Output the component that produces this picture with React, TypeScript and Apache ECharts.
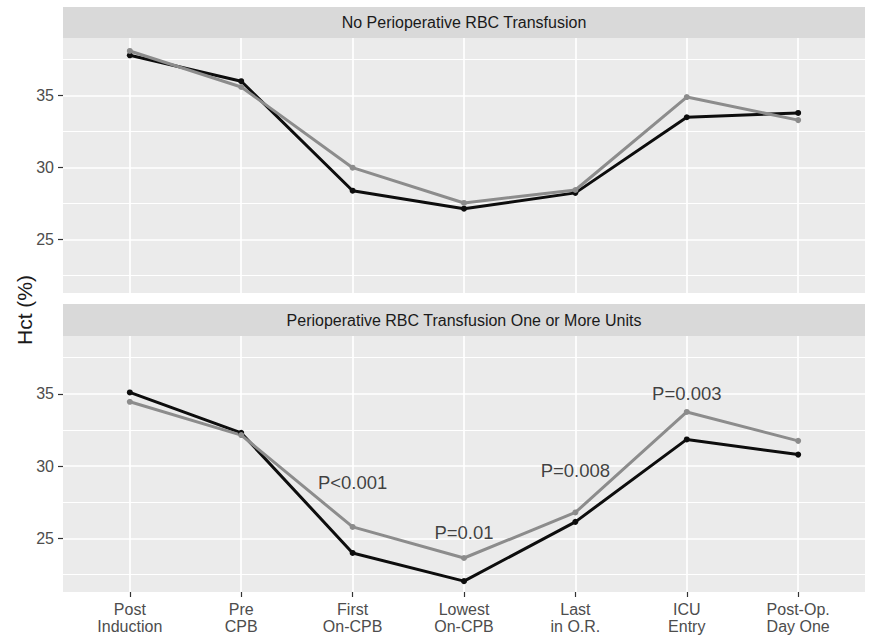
import React, { useEffect, useRef } from "react";
import * as echarts from "echarts";

const categories = [
  "Post\nInduction",
  "Pre\nCPB",
  "First\nOn-CPB",
  "Lowest\nOn-CPB",
  "Last\nin O.R.",
  "ICU\nEntry",
  "Post-Op.\nDay One",
];
const panelTitles = [
  "No Perioperative RBC Transfusion",
  "Perioperative RBC Transfusion One or More Units",
];
// Panel 1: no transfusion
const noTransBlack = [37.8, 36.0, 28.4, 27.15, 28.25, 33.5, 33.8];
const noTransGray = [38.1, 35.6, 30.0, 27.55, 28.45, 34.9, 33.3];
// Panel 2: transfusion
const transBlack = [35.1, 32.3, 24.0, 22.05, 26.15, 31.85, 30.8];
const transGray = [34.45, 32.15, 25.8, 23.65, 26.8, 33.75, 31.75];
// p-value annotations in panel 2: [x index, y value, text]
const pLabels: [number, number, string][] = [
  [2, 28.87, "P<0.001"],
  [3, 25.42, "P=0.01"],
  [4, 29.72, "P=0.008"],
  [5, 35.05, "P=0.003"],
];
const yMajorTicks = [25, 30, 35];
const yMinorTicks = [22.5, 27.5, 32.5, 37.5];
const xTicks = [0, 1, 2, 3, 4, 5, 6];
const yMin = 21.3;
const yMax = 39.0;

const BLACK = "#0d0d0d";
const GRAY = "#8c8c8c";
const FONT = "'Liberation Sans', Arial, sans-serif";

export default function App() {
  const ref = useRef<HTMLDivElement>(null);
  useEffect(() => {
    if (!ref.current) return;
    const chart = echarts.init(ref.current, null, { renderer: "svg" });

    const grids = [
      { left: 63, top: 38, width: 802, height: 255 },
      { left: 63, top: 336, width: 802, height: 256 },
    ];

    const xAxes = grids.map((_, i) => ({
      type: "value",
      gridIndex: i,
      min: -0.6,
      max: 6.6,
      splitLine: { show: false },
      axisLine: { show: false, onZero: false },
      axisTick: {
        show: i === 1,
        customValues: xTicks,
        length: 5,
        lineStyle: { color: "#333333", width: 1.2 },
      },
      axisLabel: {
        show: i === 1,
        customValues: xTicks,
        formatter: (v: number) => categories[Math.round(v)] ?? "",
        color: "#4D4D4D",
        fontSize: 16,
        lineHeight: 17,
        fontFamily: FONT,
        margin: 9,
      },
    }));

    const yAxes = grids.map((_, i) => ({
      type: "value",
      gridIndex: i,
      min: yMin,
      max: yMax,
      splitLine: { show: false },
      axisLine: { show: false, onZero: false },
      axisTick: {
        show: true,
        customValues: yMajorTicks,
        length: 5,
        lineStyle: { color: "#333333", width: 1.2 },
      },
      axisLabel: {
        customValues: yMajorTicks,
        color: "#4D4D4D",
        fontSize: 16,
        fontFamily: FONT,
        margin: 9,
      },
    }));

    const gridLineSeries = grids.map((_, i) => ({
      type: "line",
      xAxisIndex: i,
      yAxisIndex: i,
      data: [],
      z: 1,
      silent: true,
      markLine: {
        z: 1,
        silent: true,
        symbol: ["none", "none"],
        label: { show: false },
        emphasis: { disabled: true },
        data: [
          ...yMinorTicks.map((v) => ({ yAxis: v, lineStyle: { color: "#ffffff", width: 1, type: "solid" } })),
          ...yMajorTicks.map((v) => ({ yAxis: v, lineStyle: { color: "#ffffff", width: 1.7, type: "solid" } })),
          ...xTicks.map((v) => ({ xAxis: v, lineStyle: { color: "#ffffff", width: 1.7, type: "solid" } })),
        ],
      },
    }));

    const mkLine = (name: string, vals: number[], color: string, i: number) => ({
      type: "line",
      name,
      xAxisIndex: i,
      yAxisIndex: i,
      z: 3,
      data: vals.map((v, k) => [k, v]),
      symbol: "circle",
      symbolSize: 6,
      itemStyle: { color },
      lineStyle: { color, width: 3 },
      silent: true,
    });

    const option = {
      animation: false,
      backgroundColor: "#ffffff",
      grid: grids.map((g) => ({
        ...g,
        show: true,
        backgroundColor: "#EBEBEB",
        borderWidth: 0,
        containLabel: false,
      })),
      xAxis: xAxes,
      yAxis: yAxes,
      series: [
        ...gridLineSeries,
        mkLine("Black (no transfusion)", noTransBlack, BLACK, 0),
        mkLine("Gray (no transfusion)", noTransGray, GRAY, 0),
        mkLine("Black (transfusion)", transBlack, BLACK, 1),
        mkLine("Gray (transfusion)", transGray, GRAY, 1),
        {
          type: "scatter",
          xAxisIndex: 1,
          yAxisIndex: 1,
          z: 4,
          symbolSize: 1,
          itemStyle: { color: "rgba(0,0,0,0)" },
          data: pLabels.map((p) => [p[0], p[1], p[2]]),
          label: {
            show: true,
            position: "inside",
            formatter: (p: any) => p.data[2],
            color: "#111111",
            fontSize: 18.5,
            fontFamily: FONT,
          },
          silent: true,
        },
      ],
      graphic: [
        { type: "rect", shape: { x: 63, y: 7, width: 802, height: 31 }, style: { fill: "#D9D9D9" }, silent: true },
        {
          type: "text",
          x: 464,
          y: 22.5,
          style: { text: panelTitles[0], fill: "#1A1A1A", fontSize: 16, fontFamily: FONT, align: "center", verticalAlign: "middle" },
          silent: true,
        },
        { type: "rect", shape: { x: 63, y: 304, width: 802, height: 32 }, style: { fill: "#D9D9D9" }, silent: true },
        {
          type: "text",
          x: 464,
          y: 320,
          style: { text: panelTitles[1], fill: "#1A1A1A", fontSize: 16, fontFamily: FONT, align: "center", verticalAlign: "middle" },
          silent: true,
        },
        {
          type: "text",
          x: 24,
          y: 310,
          rotation: Math.PI / 2,
          style: { text: "Hct (%)", fill: "#1A1A1A", fontSize: 21, fontFamily: FONT, align: "center", verticalAlign: "middle" },
          silent: true,
        },
      ],
    };

    chart.setOption(option as any);
    return () => chart.dispose();
  }, []);

  return (
    <div
      ref={ref}
      style={{ position: "fixed", left: 0, top: 0, width: 869, height: 640 }}
    />
  );
}
